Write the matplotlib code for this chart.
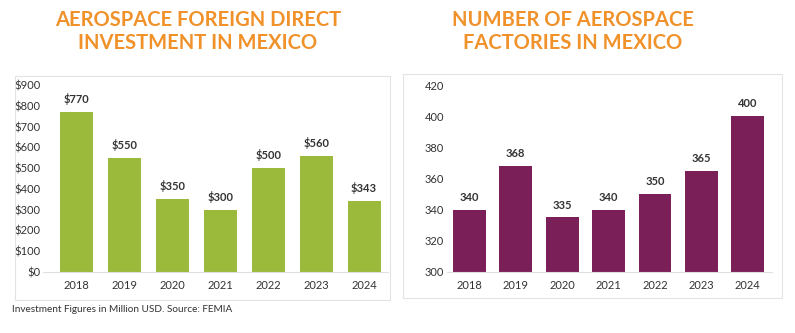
import matplotlib.pyplot as plt
from matplotlib.patches import Rectangle

years = ["2018", "2019", "2020", "2021", "2022", "2023", "2024"]
fdi = [770, 550, 350, 300, 500, 560, 343]
factories = [340, 368, 335, 340, 350, 365, 400]

orange = "#F0912A"
green = "#9BBA3B"
purple = "#7B1F58"
txt = "#333333"

plt.rcParams["font.family"] = ["Lato", "DejaVu Sans"]

fig = plt.figure(figsize=(7.95, 3.33), dpi=100)
W, H = 795, 333


def ax_rect(x0, x1, y0, y1):
    return [x0 / W, 1 - y1 / H, (x1 - x0) / W, (y1 - y0) / H]


# light frames around each panel
for x0, x1, y0, y1 in [(15, 390, 76, 300), (403, 782, 74, 298)]:
    fig.patches.append(Rectangle((x0 / W, 1 - y1 / H), (x1 - x0) / W, (y1 - y0) / H,
                                 transform=fig.transFigure, fill=False,
                                 edgecolor="#E3E3E3", linewidth=0.8))

ax1 = fig.add_axes(ax_rect(43, 388, 85, 272))
ax2 = fig.add_axes(ax_rect(447, 772, 85, 272))

x = range(len(years))
ax1.bar(x, fdi, width=0.69, color=green, zorder=2)
ax1.set_ylim(0, 900)
ax1.set_xlim(-0.7, 6.5)
ax1.set_yticks(range(0, 901, 100))
ax1.set_yticklabels(["$%d" % v for v in range(0, 901, 100)])
for i, v in enumerate(fdi):
    ax1.annotate("$%d" % v, (i, v), xytext=(0, 5), textcoords="offset points",
                 ha="center", va="bottom", fontsize=8, fontweight="bold", color=txt)

ax2.bar(x, factories, width=0.71, color=purple, zorder=2)
ax2.set_ylim(300, 420)
ax2.set_xlim(-0.48, 6.52)
ax2.set_yticks(range(300, 421, 20))
for i, v in enumerate(factories):
    ax2.annotate(str(v), (i, v), xytext=(0, 5), textcoords="offset points",
                 ha="center", va="bottom", fontsize=8, fontweight="bold", color=txt)

for ax in (ax1, ax2):
    ax.set_xticks(list(x))
    ax.set_xticklabels(years)
    for s in ("top", "right", "left"):
        ax.spines[s].set_visible(False)
    ax.spines["bottom"].set_color("#E0E0E0")
    ax.spines["bottom"].set_linewidth(0.8)
    ax.tick_params(length=0, labelsize=8, labelcolor=txt)
    ax.tick_params(axis="x", pad=6)
    ax.tick_params(axis="y", pad=2)

fig.text(198 / W, 1 - 20 / H, "AEROSPACE FOREIGN DIRECT", ha="center", va="center",
         fontsize=14.5, fontweight="bold", color=orange)
fig.text(198 / W, 1 - 43 / H, "INVESTMENT IN MEXICO", ha="center", va="center",
         fontsize=14.5, fontweight="bold", color=orange)
fig.text(573 / W, 1 - 20 / H, "NUMBER OF AEROSPACE", ha="center", va="center",
         fontsize=14.5, fontweight="bold", color=orange)
fig.text(573 / W, 1 - 43 / H, "FACTORIES IN MEXICO", ha="center", va="center",
         fontsize=14.5, fontweight="bold", color=orange)

fig.text(12 / W, 1 - 310 / H, "Investment Figures in Million USD. Source: FEMIA",
         ha="left", va="center", fontsize=7.2, color=txt)

fig.savefig("out.png", dpi=100)
